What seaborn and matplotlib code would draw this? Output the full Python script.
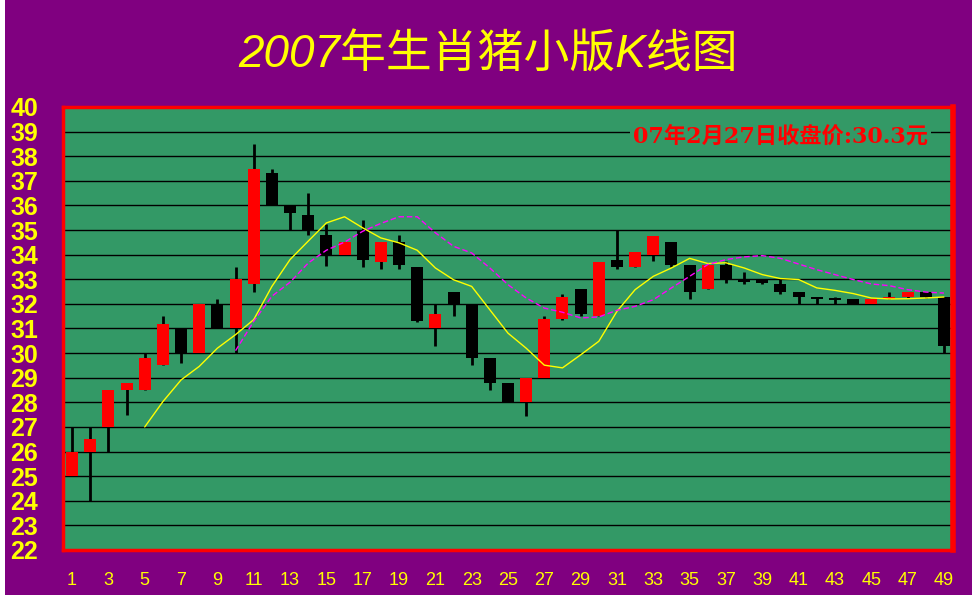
import seaborn as sns
import matplotlib.pyplot as plt
import matplotlib.patches as mpatches
import pandas as pd
import numpy as np

# daily K-line data (day 1..49)
days = list(range(1, 50))
open_ = [25.0, 26.0, 27.0, 28.5, 28.5, 29.5, 31.0, 30.0, 32.0, 31.0,
         32.8, 37.3, 36.0, 35.6, 34.8, 34.0, 35.0, 33.7, 34.5, 33.5,
         31.0, 32.5, 32.0, 29.8, 28.8, 28.0, 29.0, 31.4, 32.6, 31.5,
         33.8, 33.5, 34.0, 34.5, 33.6, 32.6, 33.6, 33.0, 33.0, 32.8,
         32.5, 32.3, 32.25, 32.2, 32.0, 32.2, 32.3, 32.5, 32.3]
close = [26.0, 26.5, 28.5, 28.8, 29.8, 31.2, 30.0, 32.0, 31.0, 33.0,
         37.5, 36.0, 35.7, 35.0, 34.0, 34.5, 33.8, 34.5, 33.6, 31.3,
         31.6, 32.0, 29.8, 28.8, 28.0, 29.0, 31.4, 32.3, 31.6, 33.7,
         33.5, 34.1, 34.75, 33.6, 32.5, 33.6, 33.0, 32.9, 32.85, 32.5,
         32.3, 32.2, 32.15, 32.0, 32.2, 32.3, 32.5, 32.3, 30.3]
high = [27.0, 27.0, 28.5, 28.8, 30.0, 31.5, 31.0, 32.0, 32.2, 33.5,
        38.5, 37.5, 36.0, 36.5, 35.25, 34.5, 35.4, 34.5, 34.8, 33.5,
        32.0, 32.5, 32.0, 29.8, 28.8, 29.0, 31.5, 32.4, 32.6, 33.7,
        35.0, 34.1, 34.75, 34.5, 33.6, 33.6, 33.75, 33.3, 33.0, 33.0,
        32.5, 32.3, 32.3, 32.2, 32.2, 32.5, 32.5, 32.5, 32.3]
low = [25.0, 24.0, 26.0, 27.5, 28.5, 29.5, 29.6, 30.0, 31.0, 30.0,
       32.5, 36.0, 35.0, 34.8, 33.55, 34.0, 33.5, 33.4, 33.4, 31.25,
       30.3, 31.5, 29.5, 28.5, 28.0, 27.45, 29.0, 31.35, 31.5, 31.5,
       33.4, 33.5, 33.75, 33.5, 32.2, 32.6, 32.85, 32.8, 32.8, 32.4,
       32.0, 32.0, 32.0, 32.0, 32.0, 32.2, 32.25, 32.25, 30.0]

# moving average lines
ma5_days = list(range(5, 50))
ma5 = [27.0, 28.03, 28.91, 29.46, 30.2, 30.75, 31.36, 32.71, 33.8, 34.55,
       35.29, 35.54, 35.09, 34.68, 34.48, 34.18, 33.46, 32.98, 32.71, 31.76,
       30.81, 30.2, 29.51, 29.4, 29.93, 30.48, 31.7, 32.58, 33.12, 33.46,
       33.85, 33.64, 33.67, 33.46, 33.19, 33.03, 32.99, 32.65, 32.55, 32.42,
       32.24, 32.2, 32.21, 32.24, 32.28]
ma10_days = list(range(10, 50))
ma10 = [30.1, 31.29, 32.31, 32.88, 33.66, 34.18, 34.51, 34.95, 35.27, 35.54,
        35.54, 34.89, 34.34, 34.07, 33.46, 32.78, 32.24, 31.83, 31.66, 31.43,
        31.47, 31.74, 31.9, 32.17, 32.65, 33.12, 33.6, 33.8, 33.91, 33.96,
        33.85, 33.62, 33.39, 33.19, 32.99, 32.81, 32.74, 32.58, 32.48, 32.44]

title = "2007年生肖猪小版K线图"
note = "07年2月27日收盘价:30.3元"

purple = "#800080"
green = "#339966"

sns.set_style("white")
plt.rcParams['font.family'] = ['Liberation Sans', 'Noto Sans CJK SC']

kdf = pd.DataFrame({"day": days, "open": open_, "close": close, "high": high, "low": low})
kdf["bottom"] = kdf[["open", "close"]].min(axis=1)
kdf["size"] = (kdf["close"] - kdf["open"]).abs()
kdf["color"] = np.where(kdf["close"] > kdf["open"], "#ff0000", "#000000")

fig = plt.figure(figsize=(9.77, 6), dpi=100, facecolor="white")
fig.patches.append(mpatches.Rectangle((5 / 977, 5 / 600), 967 / 977, 595 / 600,
                                      transform=fig.transFigure, facecolor=purple,
                                      edgecolor="none", zorder=-10))
ax = fig.add_axes([63 / 977, 50 / 600, 890 / 977, 443 / 600])
ax.set_facecolor(green)

# wicks behind bodies
ax.vlines(kdf["day"], kdf["low"], kdf["high"], color="black", lw=2, zorder=2)
ax.bar(kdf["day"], kdf["size"], bottom=kdf["bottom"], width=0.66,
       color=kdf["color"], edgecolor="none", zorder=3)

sns.lineplot(x=ma5_days, y=ma5, ax=ax, color="#ffff00", lw=1, zorder=4)
sns.lineplot(x=ma10_days, y=ma10, ax=ax, color="#ff00ff", lw=1,
             linestyle=(0, (4, 2)), zorder=4)

ax.set_xlim(0.5, 49.5)
ax.set_ylim(22, 40)
ax.set_yticks(range(22, 41))
ax.set_xticks(range(1, 50, 2))
ax.set_xticks(np.arange(1.5, 50, 1), minor=True)
ax.yaxis.grid(True, color="black", lw=1)
ax.set_axisbelow(True)
ax.tick_params(axis="y", length=0, pad=18, labelsize=18, labelcolor="#ffff00")
ax.tick_params(axis="x", which="major", length=0, pad=16, labelsize=13, labelcolor="#ffff00")
ax.tick_params(axis="x", which="minor", direction="in", length=4, width=1, color="black")
for lab in ax.get_yticklabels():
    lab.set_fontweight("bold")
for s in ax.spines.values():
    s.set_color("#ff0000")
    s.set_linewidth(2.5)
ax.spines["right"].set_linewidth(4)
ax.set_xlabel("")
ax.set_ylabel("")

ax.text(0.806, 0.932, note, transform=ax.transAxes, ha="center", va="center",
        color="#ff0000", fontsize=16, fontweight="bold",
        family=['DejaVu Serif', 'Noto Sans CJK SC'],
        bbox=dict(facecolor=green, edgecolor="none", pad=2), zorder=5)

fig.text(0.5, 1 - 55 / 600, title, ha="center", va="center", color="#ffff00",
         fontsize=33, style="italic", family=['Liberation Sans', 'Noto Sans CJK SC'])

fig.savefig("out.png", dpi=100, facecolor=fig.get_facecolor())
